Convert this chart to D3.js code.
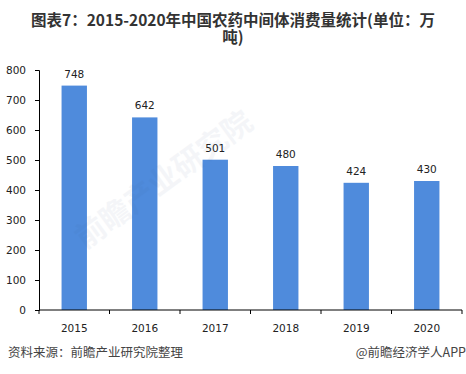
<!DOCTYPE html>
<html>
<head>
<meta charset="utf-8">
<script src="https://cdn.jsdelivr.net/npm/d3@7"></script>
<style>
  body { margin: 0; background: #fff; }
  #chart { position: relative; width: 466px; height: 374px; }
  svg { display: block; }
  .title {
    position: absolute; left: 0; top: 11px; width: 466px;
    font-family: 'Microsoft YaHei', 'Noto Sans CJK SC', sans-serif;
    font-weight: bold; font-size: 15.5px; line-height: 17px;
    color: #333; text-align: center;
  }
  .title span { display: inline-block; width: 416px; }
</style>
</head>
<body>
<div id="chart"></div>
<script>
const years = ["2015", "2016", "2017", "2018", "2019", "2020"];
const values = [748, 642, 501, 480, 424, 430];
const yTicks = [0, 100, 200, 300, 400, 500, 600, 700, 800];
const titleText = "图表7：2015-2020年中国农药中间体消费量统计(单位：万吨)";
const sourceText = "资料来源：前瞻产业研究院整理";
const brandText = "@前瞻经济学人APP";

const width = 466, height = 374;
const margin = {top: 70, right: 4, bottom: 64, left: 39};

const root = d3.select("#chart");

const svg = root.append("svg")
  .attr("width", width)
  .attr("height", height);

// title as one wrapped block (wraps after 万 like the original)
root.append("div")
  .attr("class", "title")
  .append("span")
  .text(titleText);

const cjk = "'Microsoft YaHei','Noto Sans CJK SC',sans-serif";
const num = "'DejaVu Sans',Verdana,sans-serif";

const x = d3.scaleBand()
  .domain(years)
  .range([margin.left, width - margin.right])
  .paddingInner(0.64)
  .paddingOuter(0.32);

const y = d3.scaleLinear()
  .domain([0, 800])
  .range([height - margin.bottom, margin.top]);

// bars
svg.append("g").selectAll("rect")
  .data(values)
  .enter().append("rect")
  .attr("x", (d, i) => x(years[i]))
  .attr("y", d => y(d))
  .attr("width", x.bandwidth())
  .attr("height", d => y(0) - y(d))
  .attr("fill", "#4f8bdc");

// value labels
svg.append("g").selectAll("text")
  .data(values)
  .enter().append("text")
  .attr("x", (d, i) => x(years[i]) + x.bandwidth() / 2)
  .attr("y", d => y(d) - 8)
  .attr("text-anchor", "middle")
  .attr("font-family", num)
  .attr("font-size", 10.5)
  .attr("fill", "#222")
  .text(d => d);

// watermark
const wm = svg.append("g")
  .attr("transform", "translate(170,188) rotate(-36)")
  .attr("opacity", 0.05);
wm.append("text")
  .attr("text-anchor", "middle")
  .attr("font-family", cjk)
  .attr("font-weight", "bold")
  .attr("font-size", 30)
  .attr("fill", "#3a5a8a")
  .text("前瞻产业研究院");

// y axis
const yAxis = svg.append("g")
  .attr("transform", `translate(${margin.left},0)`)
  .call(d3.axisLeft(y).tickValues(yTicks).tickSize(4).tickPadding(9));
yAxis.select(".domain").attr("stroke", "#000");
yAxis.selectAll(".tick line").attr("stroke", "#000");
yAxis.selectAll("text")
  .attr("font-family", num)
  .attr("font-size", 10.5)
  .attr("fill", "#222");

// x axis, ticks at band edges
const edges = years.map(d => x(d) - x.step() * x.paddingInner() / 2)
  .concat([width - margin.right]);
const xAxisG = svg.append("g")
  .attr("transform", `translate(0,${y(0)})`);
xAxisG.append("line")
  .attr("x1", margin.left).attr("x2", width - margin.right)
  .attr("stroke", "#000");
xAxisG.selectAll("line.tk")
  .data(edges)
  .enter().append("line")
  .attr("class", "tk")
  .attr("x1", d => d).attr("x2", d => d)
  .attr("y1", 0).attr("y2", 4)
  .attr("stroke", "#000");
xAxisG.selectAll("text")
  .data(years)
  .enter().append("text")
  .attr("x", d => x(d) + x.bandwidth() / 2)
  .attr("y", 22)
  .attr("text-anchor", "middle")
  .attr("font-family", num)
  .attr("font-size", 10.5)
  .attr("fill", "#222")
  .text(d => d);

// footer
svg.append("text")
  .attr("x", 8)
  .attr("y", 357)
  .attr("font-family", cjk)
  .attr("font-size", 12.5)
  .attr("fill", "#444")
  .text(sourceText);
svg.append("text")
  .attr("x", 466)
  .attr("y", 357)
  .attr("text-anchor", "end")
  .attr("font-family", cjk)
  .attr("font-size", 12.5)
  .attr("fill", "#444")
  .text(brandText);
</script>
</body>
</html>
